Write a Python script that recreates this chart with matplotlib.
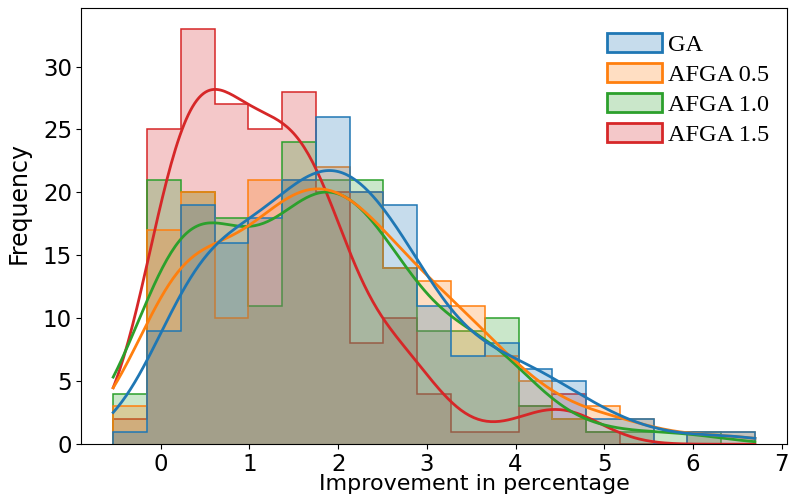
import numpy as np
import matplotlib
matplotlib.use("Agg")
import matplotlib.pyplot as plt
from matplotlib.colors import to_rgba
from matplotlib.patches import Patch

# shared histogram bins (19 bins)
edges = np.linspace(-0.537, 6.70, 20)

labels = ["GA", "AFGA 0.5", "AFGA 1.0", "AFGA 1.5"]
colors = ["#1f77b4", "#ff7f0e", "#2ca02c", "#d62728"]

# counts per bin
ga      = [1, 9, 19, 16, 18, 21, 26, 20, 19, 11, 7, 8, 6, 5, 2, 2, 0, 1, 1]
afga05  = [3, 17, 20, 10, 21, 21, 22, 20, 14, 13, 11, 7, 5, 2, 3, 2, 0, 1, 1]
afga10  = [4, 21, 20, 18, 11, 24, 21, 21, 14, 9, 9, 10, 3, 2, 1, 1, 1, 1, 0]
afga15  = [2, 25, 33, 27, 25, 28, 20, 8, 10, 4, 1, 1, 3, 4, 1, 0, 0, 0, 0]
series = [ga, afga05, afga10, afga15]

centers = (edges[:-1] + edges[1:]) / 2
width = edges[1] - edges[0]
grid = np.linspace(edges[0], edges[-1], 300)


def kde_counts(counts):
    # gaussian kde (scott's rule) scaled to counts like seaborn does
    w = np.asarray(counts, float)
    n = w.sum()
    mean = (w * centers).sum() / n
    sd = np.sqrt((w * (centers - mean) ** 2).sum() / (n - 1))
    h = sd * n ** (-1 / 5)
    z = (grid[None, :] - centers[:, None]) / h
    dens = (w[:, None] * np.exp(-0.5 * z ** 2)).sum(0) / (n * h * np.sqrt(2 * np.pi))
    return dens * n * width


fig = plt.figure(figsize=(7.95, 4.98), dpi=100)
ax = fig.add_axes([0.102, 0.108, 0.888, 0.876])

# last hue drawn first, like seaborn
for counts, c in reversed(list(zip(series, colors))):
    ax.stairs(counts, edges, fill=True, facecolor=to_rgba(c, 0.25),
              edgecolor=c, linewidth=1.1)

for counts, c in reversed(list(zip(series, colors))):
    ax.plot(grid, kde_counts(counts), color=c, linewidth=2)

ax.set_ylim(bottom=0)
ax.set_xticks(range(0, 8))
ax.tick_params(labelsize=16.5, pad=3)
ax.set_xlabel("Improvement in percentage", fontsize=16)
ax.set_ylabel("Frequency", fontsize=17)
ax.xaxis.set_label_coords(0.557, -0.069)
ax.yaxis.set_label_coords(-0.072, 0.553)

handles = [Patch(facecolor=to_rgba(c, 0.25), edgecolor=c, linewidth=2) for c in colors]
ax.legend(handles, labels, loc="upper right", frameon=False,
          prop={"family": "Liberation Serif", "size": 17.5},
          handlelength=2.27, handleheight=0.82, handletextpad=0.25,
          labelspacing=0.3, bbox_to_anchor=(1.006, 0.993))

fig.savefig("out.png", dpi=100)
